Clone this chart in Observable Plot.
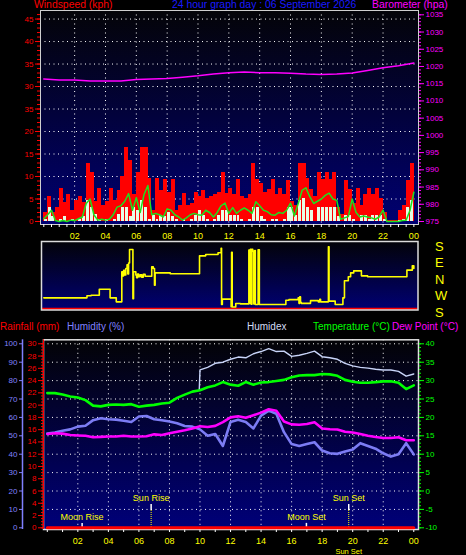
<!DOCTYPE html>
<html><head><meta charset="utf-8">
<script src="https://cdn.jsdelivr.net/npm/d3@7"></script>
<script src="https://cdn.jsdelivr.net/npm/@observablehq/plot@0.6"></script>
<style>
html,body{margin:0;padding:0;background:#000;}
#wrap{position:relative;width:466px;height:555px;background:#000;overflow:hidden;font-family:"Liberation Sans",Arial,sans-serif;}
.t{position:absolute;font-size:10px;white-space:nowrap;line-height:12px;}
.tt{font-size:10.4px;line-height:10px;}
</style></head><body><div id="wrap">
<div class="t tt" style="left:34px;top:0px;color:#ff0000">Windspeed (kph)</div>
<div class="t tt" style="left:172px;top:0px;color:#1a1aff">24 hour graph day : 06 September 2026</div>
<div class="t tt" style="left:372px;top:0px;color:#ff00ff">Barometer (hpa)</div>
<div class="t" style="left:0px;top:321px;color:#ff0000">Rainfall (mm)</div>
<div class="t" style="left:67px;top:321px;color:#8080ff">Humidity (%)</div>
<div class="t" style="left:247px;top:321px;color:#d4dcf4">Humidex</div>
<div class="t" style="left:313px;top:321px;color:#00ff00">Temperature (°C)</div>
<div class="t" style="left:392px;top:321px;color:#ff00ff">Dew Point (°C)</div>
</div>
<script>
// ---------- axis ticks / labels ----------
const hourTicks = [2,4,6,8,10,12,14,16,18,20,22,24];
const hourTickLabels = ["02","04","06","08","10","12","14","16","18","20","22","00"];
const gridHours = [2,4,6,8,10,12,14,16,18,20,22];
const windTicks = [0,5,10,15,20,25,30,35,40,45];
const windTickLabels = ["0","5","10","15","20","35","30","35","40","45"];
const baroTicks = [975,980,985,990,995,1000,1005,1010,1015,1020,1025,1030,1035];
const compassTicks = [180,90,0,-90,-180];
const compassLabels = ["S","E","N","W","S"];
const tempTicks = [-10,-5,0,5,10,15,20,25,30,35,40];
const humTicks = [0,10,20,30,40,50,60,70,80,90,100];
const rainTicks = [0,2,4,6,8,10,12,14,16,18,20,22,24,26,28,30];

// ---------- wind (15-minute bins starting at each time) ----------
const windTimes = d3.range(0, 24, 0.25);
const windGust = [2,5.6,2,3, 7.3,4.3,6,2.5, 4.6,5.6,4.3,12.8, 11,4.5,7.3,3.5, 4.5,7.3,4.6,6.8, 9.9,16.5,13.5,6,
  10.9,16.5,16.5,9.5, 2.5,9.5,6.9,9.3, 6.5,9.3,2.5,3.5, 6.2,3.5,4,6.5, 5.5,6.8,5.2,5.5, 6,6.5,10.9,6.3,
  7.3,6,9.3,5.5, 5,6,12.8,9.3, 8.4,6.5,7,9.3, 6,7.3,6,9, 4.5,3.5,12.8,12.8, 9.5,7,5.5,11,
  9.3,11,9.3,11, 3,1.5,9,7, 4,7.3,3.5,6, 7.3,6,7.3,5, 2,0.3,0.3,0.3, 2.5,3.5,9,12.8];
const windSpeed = [0.5,3.2,1,0, 0.5,1,0,0.5, 0,0.5,1,4.6, 3.2,1.5,0.5,0, 0.5,0,0.5,1.5, 3.2,3.2,1,3.2,
  2.5,4.6,3.2,0.5, 1.4,0.5,1.4,1, 2.1,1,0.5,0, 0.5,0,0.5,1.4, 2.4,1.4,0.5,0, 0.5,1.4,2.4,2.4,
  1.4,1.4,1.4,0.5, 0,0.5,3.2,3.2, 1,0.5,0,0.5, 0.5,0,0.5,3.2, 3.2,1.4,4.6,5.1, 3.2,2.4,0,3.2,
  3.2,3.2,3.2,3.2, 1,0,1.4,1.4, 0.5,0,1.4,1.4, 0.5,1.4,1.4,1.4, 0.5,0,0,0, 0.3,0.5,3.2,4.6];
const avgTimes = d3.range(0, 24.01, 0.25);
const windAvg = [0.6,1.5,2.5,0.2, 0,0.2,0,0.3, 0.2,0.6,1,4, 5,1.5,0.3,0.5, 0.3,0.5,1.5,3.2, 3.5,4.5,6.2,2.5,
  5.3,2,6,8, 1.5,1.8,1.5,1, 2.8,2.5,1.5,1, 0.3,0.8,1.5,1.8, 1.5,1.4,2.5,2, 1,2,3.5,4.1,
  1.8,3.1,1.8,2.5, 3,2.5,1.8,4.4, 3.5,2.5,2.2,1.5, 1.4,2,1.8,2.5, 4.1,1.2,4,6.9, 7.5,5.5,4,4.5,
  5,5.8,6.3,5, 4.7,0.5,0.8,1.1, 5,2,1,1.2, 1,0.8,0.5,1, 2.5,0,0,0, 0,0.2,0.3,2.5, 6.5];

// ---------- barometer (hourly) ----------
const baroHours = d3.range(0, 25, 1);
const baroValues = [1016.4,1016.1,1016.1,1015.8,1015.75,1015.75,1016.2,1016.4,1016.5,1016.9,1017.3,1017.8,
  1018.2,1018.4,1018.2,1018.2,1018.0,1017.8,1017.7,1017.8,1018.1,1018.8,1019.6,1020.2,1021.0];

// ---------- wind direction (bearing, degrees) ----------
const dirHours = [0,2.8,3.07,3.6,4.3,4.7,5.06,5.12,5.18,5.25,5.32,5.4,5.45,5.5,5.56,5.78,5.82,5.97,6.02,6.08,6.15,6.25,6.35,6.45,6.57,
  7.0,7.1,7.18,7.22,8.2,10.1,10.5,11.3,11.5,11.53,11.58,12.15,12.18,12.22,12.45,12.75,13.3,13.35,13.4,13.45,13.5,13.55,13.62,13.68,13.72,13.9,13.98,
  15.7,15.9,16.5,16.55,16.6,16.65,16.7,17.3,17.8,17.9,17.95,18.46,18.5,18.9,19.4,19.5,19.75,19.9,20.1,20.6,21.0,23.55,23.9,24];
const dirBearings = [260,271,274,307,260,238,42,20,50,25,60,80,30,90,164,255,42,24,10,30,15,25,12,28,18,
  69,60,329,36,31,129,136,146,170,224,253,211,149,210,229,227,160,230,165,225,165,155,227,158,224,162,224,
  247,250,260,230,265,235,230,245,238,252,238,178,242,224,260,353,15,36,47,20,15,51,75,60];
const dirBaseline = [-160];

// ---------- temperature / humidity (half-hourly) ----------
const halfHours = d3.range(0, 24.01, 0.5);
const temperature = [26.6,26.6,26.2,25.7,25.4,24.7,23.2,23.0,23.4,23.5,23.4,23.6,22.9,23.2,23.4,23.8,24.0,25.3,26.2,27.0,
  27.4,28.2,28.7,29.6,28.9,28.6,29.6,28.9,29.5,29.6,29.9,30.2,30.9,31.4,31.5,31.5,31.8,31.7,31.3,30.2,
  29.7,29.4,29.4,29.6,29.8,29.8,29.4,27.7,28.7];
const humidity = [51.3,51.8,52.8,53.5,55.0,55.5,58.5,59.5,59.0,58.8,58.2,57.5,60.5,60.8,59.0,58.5,57.8,56.8,55.3,55.0,
  53.5,50.0,51.0,44.5,57.5,58.7,57.5,54.0,61.0,63.7,62.0,52.0,45.5,44.5,45.5,46.5,42.0,40.5,40.2,41.5,
  42.5,46.0,44.5,43.0,40.5,38.7,40.0,46.0,39.9];
const dewPoint = [15.5,15.7,15.6,15.2,15.1,15.0,14.6,14.7,14.8,14.8,15.0,14.8,14.8,14.9,15.4,15.2,15.7,16.1,16.5,17.0,
  17.6,17.4,17.7,18.7,20.0,20.3,19.9,20.6,21.3,22.2,21.8,18.9,18.1,18.0,18.2,18.7,17.0,16.8,16.7,16.1,
  15.9,15.5,15.0,14.7,14.4,14.4,14.6,13.8,13.8];
const humidexHours = [9.95,10,10.5,11,11.5,12,12.5,13,13.5,14,14.5,15,15.5,16,16.5,17,17.5,18,18.5,19,19.5,20,20.5,21,21.5,22,22.5,23,23.5,24];
const humidex = [27.4,32.9,33.6,34.7,35.0,35.8,36.4,36.2,37.3,37.9,38.7,37.9,38.0,36.6,36.9,37.4,38.0,36.5,36.2,35.8,34.7,34.0,33.6,33.4,33.1,32.9,32.9,32.5,31.2,31.8];
const rainHours = [0,3,6,9,12,15,18,21,24];
const rainfall = [0,0,0,0,0,0,0,0,0];

// ---------- sun / moon events ----------
const eventNames = ["Moon Rise","Sun Rise","Moon Set","Sun Set"];
const eventHours = [2.28,6.8,16.97,19.74];

// ================= drawing =================
const wrap = document.getElementById("wrap");
const FONT = "'Liberation Sans', Arial, sans-serif";
function layer(o, top) {
  const svg = Plot.plot({
    width: 466, height: o.height,
    marginTop: o.mt, marginBottom: o.mb, marginLeft: o.ml, marginRight: o.mr,
    style: {background: "transparent", fontFamily: FONT, fontSize: "8px", color: "white", overflow: "visible"},
    x: {domain: o.xd, axis: null},
    y: {domain: o.yd, axis: null},
    marks: o.marks
  });
  svg.style.position = "absolute";
  svg.style.left = "0px";
  svg.style.top = top + "px";
  wrap.appendChild(svg);
}
function gradDefs(id, c0, c1) {
  return () => {
    const defs = d3.create("svg:defs");
    const g = defs.append("linearGradient").attr("id", id).attr("x1", "0").attr("y1", "0").attr("x2", "0").attr("y2", "1");
    g.append("stop").attr("offset", "0").attr("stop-color", c0);
    g.append("stop").attr("offset", "1").attr("stop-color", c1);
    return defs.node();
  };
}
const dots = {stroke: "white", strokeOpacity: 1, strokeWidth: 1, strokeDasharray: "1,3.5"};
const hourFmt = d => hourTickLabels[hourTicks.indexOf(d)];
const plain = d => String(d);

// ---- top: wind ----
const windRows = windTimes.map((t, i) => ({t, gust: windGust[i], speed: windSpeed[i]}));
const avgRows = avgTimes.map((t, i) => ({t, v: windAvg[i]}));
const TOP = {height: 240, mt: 10, mb: 16, ml: 40, mr: 48, xd: [-0.214, 24.3]};
layer({...TOP, yd: [-0.67, 46.9], marks: [
  gradDefs("gw", "#040408", "#000072"),
  Plot.frame({fill: "url(#gw)"}),
  Plot.gridY({ticks: windTicks.slice(1), ...dots}),
  Plot.gridX({ticks: gridHours, ...dots}),
  Plot.rect(windRows, {x1: "t", x2: d => d.t + 0.26, y1: 0, y2: "gust", fill: "#ff0000", shapeRendering: "crispEdges"}),
  Plot.rect(windRows, {x1: d => d.t + 0.03, x2: d => d.t + 0.22, y1: 0, y2: "speed", fill: "#e6fde6", shapeRendering: "crispEdges"}),
  Plot.line(avgRows, {x: "t", y: "v", stroke: "#1ee01e", strokeWidth: 1.5}),
  Plot.frame({stroke: "#cfcfcf"}),
  Plot.axisY({ticks: d3.range(0, 47, 1), tickSize: 3, tickFormat: () => "", stroke: "#ff0000", label: null}),
  Plot.axisY({ticks: windTicks, tickSize: 5, tickPadding: 2, tickFormat: d => windTickLabels[windTicks.indexOf(d)], stroke: "#ff0000", fill: "#ff0000", fontSize: 8, label: null}),
  Plot.axisX({ticks: d3.range(0, 24.01, 0.5), tickSize: 3, tickFormat: () => "", stroke: "white", label: null}),
  Plot.axisX({ticks: hourTicks, tickSize: 0, tickPadding: 8, tickFormat: hourFmt, fill: "#ffff00", fontSize: 9, label: null})
]}, 0);
const baroRows = baroHours.map((h, i) => ({h, v: baroValues[i]}));
layer({...TOP, yd: [974.13, 1036.25], marks: [
  Plot.line(baroRows, {x: "h", y: "v", stroke: "#ff00ff", strokeWidth: 1.5}),
  Plot.axisY({anchor: "right", ticks: d3.range(975, 1036, 1), tickSize: 2, tickFormat: () => "", stroke: "#ff00ff", label: null}),
  Plot.axisY({anchor: "right", ticks: baroTicks, tickSize: 5, tickPadding: 2, tickFormat: plain, stroke: "#ff00ff", fill: "#ff00ff", fontSize: 8, label: null})
]}, 0);

// ---- middle: wind direction ----
const dirRows = dirHours.map((h, i) => ({h, v: dirBearings[i] > 180 ? dirBearings[i] - 360 : dirBearings[i]}));
layer({height: 92, mt: 13, mb: 10.5, ml: 41, mr: 48.5, xd: [-0.149, 24.27], yd: [-166.4, 207.3], marks: [
  gradDefs("gc", "#030308", "#000074"),
  Plot.frame({fill: "url(#gc)"}),
  Plot.ruleY(dirBaseline, {stroke: "#ff0000", strokeWidth: 2}),
  Plot.line(dirRows, {x: "h", y: "v", stroke: "#ffff00", strokeWidth: 1.6, curve: "step-after"}),
  Plot.frame({stroke: "#dcdcdc", strokeWidth: 1.5}),
  Plot.axisY({anchor: "right", ticks: compassTicks, tickSize: 0, tickPadding: 17, tickFormat: d => compassLabels[compassTicks.indexOf(d)], fill: "#ffff00", fontSize: 13, label: null})
]}, 228);

// ---- bottom: temperature / humidity / rain ----
const BOT = {height: 225, mt: 9.3, mb: 26, ml: 43, mr: 48, xd: [-0.249, 24.31]};
const TD = [-10.46, 41.09];
const HD = [-0.92, 102.18];
const RD = [-0.276, 30.65];
layer({...BOT, yd: TD, marks: [
  gradDefs("gb", "#030306", "#00007a"),
  Plot.frame({fill: "url(#gb)"}),
  Plot.gridY({ticks: tempTicks.slice(1), ...dots}),
  Plot.gridX({ticks: gridHours, ...dots}),
  Plot.frame({stroke: "#e0e0e0", strokeWidth: 1.5}),
  Plot.axisX({ticks: d3.range(0, 24.01, 1), tickSize: 3, tickFormat: () => "", stroke: "white", label: null}),
  Plot.axisX({ticks: hourTicks, tickSize: 0, tickPadding: 8, tickFormat: hourFmt, fill: "#ffff00", fontSize: 9, label: null}),
  Plot.axisY({anchor: "right", ticks: d3.range(-10, 41, 1), tickSize: 2, tickFormat: () => "", stroke: "#00ff00", label: null}),
  Plot.axisY({anchor: "right", ticks: tempTicks, tickSize: 5, tickPadding: 2, tickFormat: plain, stroke: "#00ff00", fill: "#00ff00", fontSize: 8, label: null})
]}, 330);
const humRows = halfHours.map((h, i) => ({h, v: humidity[i]}));
layer({...BOT, yd: HD, marks: [
  Plot.line(humRows, {x: "h", y: "v", stroke: "#7c7cf4", strokeWidth: 2.6}),
  Plot.ruleX([BOT.xd[0]], {dx: -21, stroke: "#8080ff", strokeWidth: 1.5}),
  Plot.axisY({ticks: humTicks, tickSize: 3, tickPadding: 2, dx: -21, tickFormat: plain, stroke: "#8080ff", fill: "#8080ff", fontSize: 8, label: null})
]}, 330);
const tRows = halfHours.map((h, i) => ({h, t: temperature[i], d: dewPoint[i]}));
const hxRows = humidexHours.map((h, i) => ({h, v: humidex[i]}));
const events = eventNames.map((name, i) => ({name, hour: eventHours[i], sun: name.startsWith("Sun")}));
layer({...BOT, yd: TD, marks: [
  Plot.line(hxRows, {x: "h", y: "v", stroke: "#c8d4f8", strokeWidth: 1.4}),
  Plot.line(tRows, {x: "h", y: "t", stroke: "#00ff00", strokeWidth: 2.6}),
  Plot.line(tRows, {x: "h", y: "d", stroke: "#ff00ff", strokeWidth: 2.6}),
  Plot.ruleX(events.filter(d => d.sun), {x: "hour", y1: -5.3, y2: -10.46, stroke: "#ffff00", strokeDasharray: "1,1"}),
  Plot.ruleX(events.filter(d => d.sun), {x: "hour", y1: -3.67, y2: -5.3, stroke: "white", strokeWidth: 1.5}),
  Plot.ruleX(events.filter(d => !d.sun), {x: "hour", y1: -8.8, y2: -10.3, stroke: "white", strokeWidth: 1.5}),
  Plot.text(events, {x: "hour", y: d => d.sun ? -2.0 : -7.2, text: "name", fill: "#ffff00", fontSize: 9}),
  Plot.text(events.filter(d => d.name === "Sun Set"), {x: "hour", y: TD[0], dy: 22, text: "name", fill: "#ffff00", fontSize: 7.5})
]}, 330);
const rainRows = rainHours.map((h, i) => ({h, v: rainfall[i]}));
layer({...BOT, yd: RD, marks: [
  Plot.line(rainRows, {x: "h", y: "v", stroke: "#ff0000", strokeWidth: 3}),
  Plot.ruleX([BOT.xd[0]], {stroke: "#ff0000", strokeWidth: 1}),
  Plot.axisY({ticks: d3.range(0, 30.01, 0.5), tickSize: 2, tickFormat: () => "", stroke: "#ff0000", label: null}),
  Plot.axisY({ticks: rainTicks, tickSize: 5, tickPadding: 2, tickFormat: plain, stroke: "#ff0000", fill: "#ff0000", fontSize: 8, label: null})
]}, 330);
</script>
</body></html>
